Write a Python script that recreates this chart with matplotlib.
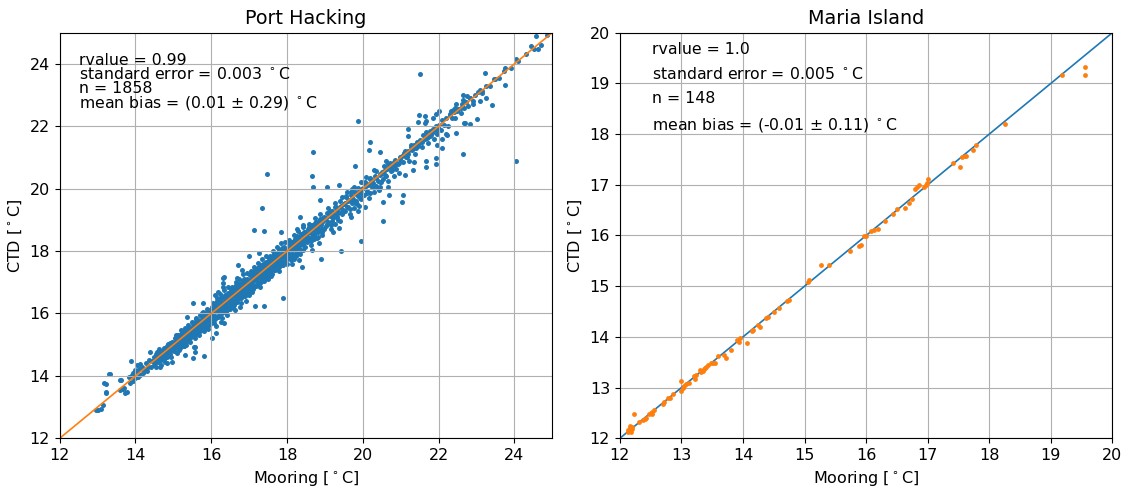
import numpy as np
import matplotlib
matplotlib.use("Agg")
import matplotlib.pyplot as plt

# Port Hacking: dense band along the 1:1 line (mooring, ctd)
ph_band = [
    (13.82,13.95),(13.85,13.78),(13.9,14.02),(13.93,13.84),(13.97,14.1),(14.0,13.92),(14.04,14.15),(14.07,13.96),(14.1,14.22),(14.13,14.02),
    (14.17,14.3),(14.2,14.08),(14.24,14.18),(14.27,14.4),(14.3,14.15),(14.34,14.28),(14.37,14.52),(14.41,14.3),(14.44,14.47),(14.48,14.35),
    (14.5,14.62),(14.52,14.4),(14.55,14.7),(14.57,14.5),(14.6,14.45),(14.62,14.78),(14.64,14.58),(14.67,14.35),(14.69,14.72),(14.71,14.62),
    (14.74,14.9),(14.76,14.55),(14.78,14.8),(14.8,14.68),(14.82,14.95),(14.84,14.6),(14.86,14.82),(14.88,14.74),(14.9,15.05),(14.91,14.7),
    (14.93,14.88),(14.95,14.62),(14.96,15.1),(14.98,14.85),(14.6,14.6),(14.7,14.8),(14.8,14.9),(14.9,14.92),(14.66,14.66),(14.86,14.96),
    (15.0,15.02),(15.02,14.8),(15.04,15.2),(15.06,14.95),(15.08,15.12),(15.1,14.72),(15.12,15.3),(15.14,15.05),(15.16,15.25),(15.18,14.9),
    (15.2,15.15),(15.22,15.38),(15.24,15.0),(15.26,15.28),(15.28,15.1),(15.3,15.45),(15.31,15.22),(15.33,14.98),(15.35,15.4),(15.37,15.3),
    (15.39,15.15),(15.41,15.55),(15.43,15.36),(15.45,15.08),(15.47,15.5),(15.49,15.4),(15.05,15.08),(15.11,15.18),(15.17,15.1),(15.23,15.3),
    (15.29,15.22),(15.34,15.36),(15.4,15.45),(15.46,15.4),(15.15,14.82),(15.27,14.95),(15.38,15.62),(15.21,15.48),(15.44,15.2),(15.48,15.28),
    (15.5,15.52),(15.51,15.3),(15.53,15.7),(15.55,15.45),(15.56,15.2),(15.58,15.65),(15.6,15.55),(15.61,15.82),(15.63,15.4),(15.65,15.68),
    (15.66,15.58),(15.68,15.3),(15.7,15.75),(15.71,15.62),(15.73,15.92),(15.75,15.5),(15.76,15.78),(15.78,15.66),(15.8,15.45),(15.81,15.88),
    (15.83,15.75),(15.85,16.02),(15.86,15.6),(15.88,15.85),(15.9,15.78),(15.91,15.5),(15.93,15.98),(15.95,15.86),(15.96,15.65),(15.98,16.1),
    (15.52,15.6),(15.57,15.52),(15.62,15.66),(15.67,15.7),(15.72,15.72),(15.77,15.8),(15.82,15.8),(15.87,15.92),(15.92,15.9),(15.97,15.96),
    (15.54,15.38),(15.64,15.48),(15.74,15.58),(15.84,15.68),(15.94,15.75),(15.59,15.85),(15.69,15.95),(15.79,16.05),(15.89,16.15),(15.99,15.8),
    (16.0,16.02),(16.01,15.8),(16.03,16.22),(16.05,15.92),(16.06,16.12),(16.08,15.7),(16.1,16.3),(16.11,16.05),(16.13,16.18),(16.15,15.88),
    (16.16,16.4),(16.18,16.1),(16.2,16.25),(16.21,15.95),(16.23,16.45),(16.25,16.18),(16.26,16.32),(16.28,15.85),(16.3,16.52),(16.31,16.22),
    (16.33,16.38),(16.35,16.05),(16.36,16.6),(16.38,16.3),(16.4,16.45),(16.41,16.12),(16.43,16.62),(16.45,16.38),(16.46,16.52),(16.48,16.2),
    (16.02,16.05),(16.07,16.08),(16.12,16.12),(16.17,16.2),(16.22,16.2),(16.27,16.28),(16.32,16.3),(16.37,16.4),(16.42,16.42),(16.47,16.48),
    (16.04,16.35),(16.14,16.5),(16.24,16.62),(16.34,16.75),(16.44,16.85),(16.09,15.82),(16.19,15.9),(16.29,16.0),(16.39,16.08),(16.49,16.15),
    (16.12,15.6),(16.27,15.72),(16.42,15.95),(16.19,16.68),(16.32,16.85),
    (16.5,16.52),(16.51,16.3),(16.53,16.72),(16.55,16.42),(16.56,16.62),(16.58,16.2),(16.6,16.8),(16.61,16.55),(16.63,16.68),(16.65,16.38),
    (16.66,16.9),(16.68,16.6),(16.7,16.75),(16.71,16.45),(16.73,16.95),(16.75,16.68),(16.76,16.82),(16.78,16.35),(16.8,17.02),(16.81,16.72),
    (16.83,16.88),(16.85,16.55),(16.86,17.1),(16.88,16.8),(16.9,16.95),(16.91,16.62),(16.93,17.12),(16.95,16.88),(16.96,17.02),(16.98,16.7),
    (16.52,16.55),(16.57,16.58),(16.62,16.62),(16.67,16.7),(16.72,16.7),(16.77,16.78),(16.82,16.8),(16.87,16.9),(16.92,16.92),(16.97,16.98),
    (16.54,16.85),(16.64,17.0),(16.74,17.12),(16.84,17.25),(16.94,17.3),(16.59,16.28),(16.69,16.38),(16.79,16.48),(16.89,16.55),(16.99,16.6),
    (16.62,16.1),(16.77,16.2),(16.92,16.4),(16.69,17.15),(16.82,17.38),
    (17.0,17.02),(17.01,16.8),(17.03,17.22),(17.05,16.92),(17.06,17.12),(17.08,16.7),(17.1,17.3),(17.11,17.05),(17.13,17.18),(17.15,16.88),
    (17.16,17.4),(17.18,17.1),(17.2,17.25),(17.21,16.95),(17.23,17.45),(17.25,17.18),(17.26,17.32),(17.28,16.85),(17.3,17.52),(17.31,17.22),
    (17.33,17.38),(17.35,17.05),(17.36,17.6),(17.38,17.3),(17.4,17.45),(17.41,17.12),(17.43,17.62),(17.45,17.38),(17.46,17.52),(17.48,17.2),
    (17.02,17.05),(17.07,17.08),(17.12,17.12),(17.17,17.2),(17.22,17.2),(17.27,17.28),(17.32,17.3),(17.37,17.4),(17.42,17.42),(17.47,17.48),
    (17.04,17.35),(17.14,17.5),(17.24,17.62),(17.34,17.75),(17.44,17.85),(17.09,16.78),(17.19,16.88),(17.29,16.98),(17.39,17.05),(17.49,17.1),
    (17.5,17.52),(17.51,17.3),(17.53,17.72),(17.55,17.42),(17.56,17.62),(17.58,17.2),(17.6,17.8),(17.61,17.55),(17.63,17.68),(17.65,17.38),
    (17.66,17.9),(17.68,17.6),(17.7,17.75),(17.71,17.45),(17.73,17.95),(17.75,17.68),(17.76,17.82),(17.78,17.35),(17.8,18.02),(17.81,17.72),
    (17.83,17.88),(17.85,17.55),(17.86,18.1),(17.88,17.8),(17.9,17.95),(17.91,17.62),(17.93,18.12),(17.95,17.88),(17.96,18.02),(17.98,17.7),
    (17.52,17.55),(17.57,17.58),(17.62,17.62),(17.67,17.7),(17.72,17.7),(17.77,17.78),(17.82,17.8),(17.87,17.9),(17.92,17.92),(17.97,17.98),
    (17.54,17.85),(17.64,18.0),(17.74,18.12),(17.84,18.25),(17.94,18.3),(17.59,17.28),(17.69,17.38),(17.79,17.48),(17.89,17.55),(17.99,17.6),
    (18.0,18.02),(18.02,17.8),(18.04,18.22),(18.06,17.92),(18.08,18.12),(18.1,17.7),(18.12,18.3),(18.14,18.05),(18.16,18.18),(18.18,17.88),
    (18.2,18.4),(18.22,18.1),(18.24,18.25),(18.26,17.95),(18.28,18.45),(18.3,18.18),(18.32,18.32),(18.34,17.9),(18.36,18.55),(18.38,18.22),
    (18.4,18.38),(18.42,18.05),(18.44,18.6),(18.46,18.3),(18.48,18.45),(18.03,18.05),(18.09,18.08),(18.15,18.15),(18.21,18.2),(18.27,18.28),
    (18.33,18.3),(18.39,18.4),(18.45,18.45),(18.05,18.35),(18.17,18.52),(18.29,18.65),(18.41,18.78),(18.11,17.78),(18.23,17.85),(18.35,18.0),
    (18.47,18.12),(18.13,17.6),(18.31,17.72),(18.25,18.7),(18.43,18.85),
    (18.5,18.52),(18.52,18.3),(18.55,18.72),(18.57,18.42),(18.6,18.62),(18.62,18.2),(18.65,18.8),(18.67,18.55),(18.7,18.68),(18.72,18.38),
    (18.75,18.9),(18.77,18.6),(18.8,18.75),(18.82,18.45),(18.85,18.95),(18.87,18.68),(18.9,18.82),(18.92,18.5),(18.95,19.05),(18.97,18.72),
    (18.53,18.55),(18.61,18.6),(18.69,18.7),(18.76,18.78),(18.84,18.85),(18.91,18.92),(18.98,19.0),(18.58,18.88),(18.73,19.05),(18.88,19.2),
    (18.63,18.32),(18.78,18.42),(18.93,18.6),(18.66,18.05),(18.83,18.25),
    (19.0,19.02),(19.03,18.8),(19.06,19.22),(19.09,18.92),(19.12,19.12),(19.15,18.7),(19.18,19.3),(19.21,19.05),(19.24,19.18),(19.27,18.88),
    (19.3,19.4),(19.33,19.1),(19.36,19.25),(19.39,18.95),(19.42,19.45),(19.45,19.18),(19.48,19.32),(19.04,19.05),(19.13,19.15),(19.22,19.2),
    (19.31,19.32),(19.4,19.4),(19.49,19.5),(19.08,19.38),(19.26,19.55),(19.44,19.72),(19.17,18.85),(19.35,19.0),(19.2,18.6),(19.38,18.75),
    (19.5,19.52),(19.53,19.3),(19.56,19.72),(19.59,19.42),(19.62,19.62),(19.65,19.2),(19.68,19.8),(19.71,19.55),(19.74,19.68),(19.77,19.38),
    (19.8,19.9),(19.83,19.6),(19.86,19.75),(19.89,19.45),(19.92,19.95),(19.95,19.68),(19.98,19.82),(19.54,19.55),(19.63,19.65),(19.72,19.7),
    (19.81,19.82),(19.9,19.9),(19.99,20.0),(19.58,19.88),(19.76,20.05),(19.94,20.22),(19.67,19.35),(19.85,19.5),(19.7,19.1),(19.88,19.28),
    (20.0,20.02),(20.03,19.8),(20.06,20.22),(20.1,19.92),(20.13,20.12),(20.16,19.7),(20.2,20.3),(20.23,20.05),(20.26,20.18),(20.3,19.88),
    (20.33,20.4),(20.36,20.1),(20.4,20.25),(20.43,19.95),(20.46,20.45),(20.49,20.2),(20.05,20.05),(20.15,20.15),(20.25,20.28),(20.35,20.35),
    (20.45,20.48),(20.09,20.38),(20.29,20.6),(20.19,19.85),(20.39,20.02),
    (20.5,20.52),(20.53,20.3),(20.57,20.72),(20.6,20.42),(20.64,20.62),(20.67,20.25),(20.71,20.82),(20.74,20.55),(20.78,20.68),(20.81,20.4),
    (20.85,20.92),(20.88,20.62),(20.92,20.78),(20.95,20.5),(20.98,21.02),(20.55,20.55),(20.69,20.7),(20.83,20.85),(20.97,20.95),(20.62,20.88),
    (21.02,21.05),(21.06,20.85),(21.1,21.22),(21.14,21.0),(21.18,21.12),(21.22,20.88),(21.26,21.35),(21.3,21.25),(21.34,21.3),(21.38,21.12),
    (21.42,21.5),(21.46,21.38),(21.49,21.45),(21.2,21.2),(21.36,21.4),
    (21.52,21.55),(21.56,21.35),(21.6,21.72),(21.64,21.58),(21.68,21.62),(21.72,21.45),(21.76,21.85),(21.8,21.72),(21.84,21.8),(21.88,21.6),
    (21.92,22.0),(21.96,21.88),(21.99,21.95),(21.7,21.7),(21.86,21.9),
    (22.02,22.05),(22.06,21.88),(22.1,22.2),(22.15,22.05),(22.2,22.25),(22.25,22.02),(22.3,22.35),(22.35,22.28),(22.4,22.45),(22.44,22.25),
    (22.48,22.5),(22.32,22.5),
    (22.52,22.55),(22.58,22.42),(22.62,22.7),(22.68,22.6),(22.72,22.78),(22.78,22.65),(22.84,22.9),(22.9,22.8),(22.95,23.0),(22.65,22.85),
    (23.05,23.1),(23.15,23.08),(23.25,23.3),(23.35,23.3),(23.45,23.5),(23.6,23.55),(23.72,23.78),(23.9,23.88),(24.1,24.1),(24.3,24.32),
    # second pass over the thickest part of the band
    (14.53,14.28),(14.58,14.75),(14.63,14.85),(14.68,14.5),(14.73,14.7),(14.77,14.45),(14.83,14.72),(14.87,15.02),(14.92,14.8),(14.97,14.98),
    (15.03,14.9),(15.07,15.3),(15.13,15.0),(15.19,15.35),(15.25,15.15),(15.32,15.52),(15.36,15.12),(15.42,15.28),(15.5,15.72),(15.55,15.62),
    (15.6,15.35),(15.66,15.78),(15.71,15.45),(15.77,15.9),(15.83,15.55),(15.88,16.0),(15.93,15.62),(15.97,16.12),
    (16.03,15.88),(16.07,16.28),(16.11,15.9),(16.16,16.3),(16.21,16.05),(16.26,16.48),(16.3,16.1),(16.35,16.55),(16.4,16.2),(16.44,16.65),
    (16.49,16.35),(16.53,16.78),(16.57,16.4),(16.62,16.82),(16.66,16.5),(16.71,16.92),(16.75,16.55),(16.8,16.62),(16.84,17.05),(16.88,16.65),
    (16.93,17.05),(16.97,16.82),
    (17.03,16.88),(17.07,17.28),(17.11,16.92),(17.16,17.32),(17.21,17.05),(17.26,17.48),(17.3,17.1),(17.35,17.55),(17.4,17.2),(17.44,17.65),
    (17.49,17.35),(17.53,17.78),(17.57,17.4),(17.62,17.82),(17.66,17.5),(17.71,17.92),(17.75,17.55),(17.8,17.62),(17.84,18.05),(17.88,17.65),
    (17.93,18.05),(17.97,17.82),
    (18.03,17.88),(18.07,18.28),(18.12,17.92),(18.17,18.32),(18.22,18.05),(18.27,18.48),(18.32,18.1),(18.37,18.55),(18.42,18.2),(18.47,18.62),
    (18.52,18.35),(18.57,18.78),(18.62,18.42),(18.67,18.82),(18.72,18.5),(18.77,18.92),(18.82,18.6),(18.87,19.02),(18.92,18.7),(18.97,19.1),
    (19.05,18.88),(19.12,19.3),(19.19,18.95),(19.26,19.42),(19.33,19.2),(19.41,19.6),(19.47,19.25),(19.55,19.78),(19.62,19.4),(19.7,19.88),
    (19.78,19.55),(19.86,20.02),(19.93,19.7),(20.02,20.18),(20.1,19.85),(20.18,20.35),(20.27,20.05),(20.35,20.55),(20.44,20.2),
    (20.58,20.45),(20.66,20.8),(20.76,20.6),(20.86,20.75),(20.96,20.82),(21.08,21.15),(21.17,21.0),(21.28,21.4),(21.4,21.3),(21.55,21.48),
    (21.66,21.8),(21.78,21.68),(21.9,21.95),
]

# Port Hacking: scattered points away from the band
ph_spread = [
    (17.48,20.48),(17.33,19.39),(18.35,19.1),(21.5,23.68),(19.87,22.16),(18.69,21.16),(24.05,20.9),(20.53,18.97),(18.67,20.39),(18.69,20.06),
    (17.12,18.68),(17.4,18.65),(17.85,18.6),(19.43,18.0),(18.9,17.74),(17.9,16.48),(17.38,16.23),(17.15,16.23),(16.33,17.16),(15.54,14.94),
    (19.95,18.32),(22.63,21.1),(22.7,22.1),(21.92,20.8),(21.66,20.68),(21.32,20.6),(21.11,20.45),(22.47,21.77),(22.1,21.29),(21.95,21.39),
    (21.66,22.16),(21.47,22.35),(21.45,22.13),(21.05,19.8),(21.03,19.58),(20.69,19.8),(20.53,19.58),(20.67,20.06),(20.45,20.06),(20.06,19.42),
    (19.8,20.74),(20.2,21.48),(20.17,21.23),(20.45,21.16),(21.19,21.68),(18.88,19.65),(19.06,20.06),(19.37,20.13),(19.71,20.0),
    (23.23,23.71),(23.5,23.52),(23.76,23.32),(23.76,23.87),(24.05,24.16),(24.57,24.9),(24.86,24.93),(24.45,24.58),(24.52,24.48),(24.63,24.48),
    (24.7,24.6),(23.42,22.68),(23.26,22.9),(23.0,22.23),(22.84,22.06),(22.68,22.12),(23.1,23.16),(23.15,23.13),(23.1,22.8),(22.9,22.7),
    (22.63,23.0),(22.76,22.97),(22.82,22.9),(22.6,22.58),(22.47,22.7),(22.44,22.6),(22.37,22.51),(22.29,22.38),(22.02,22.48),(21.94,22.38),
    (21.84,22.26),(21.63,22.32),(21.63,22.1),(22.2,21.74),(22.23,21.71),(22.08,21.6),(21.95,21.74),(21.71,21.64),(21.19,21.9),
    (21.66,20.9),(21.92,20.97),(21.35,20.84),
    (13.02,12.9),(13.08,12.93),(13.13,13.06),(13.23,13.48),(13.21,13.74),(13.34,14.06),(13.6,13.87),(13.73,13.45),(13.78,13.48),(13.6,13.55),
    (13.71,13.61),(13.66,13.58),(13.89,14.48),(13.94,14.1),(14.0,14.19),(14.05,14.35),(14.13,14.38),(14.21,14.22),(14.39,14.77),(14.65,14.29),
    (14.84,14.42),(14.97,14.45),(15.31,14.68),(15.28,14.97),(15.52,14.58),(15.57,14.94),(15.36,15.9),(15.52,16.35),(15.78,16.35),(16.1,16.58),
    (16.33,15.71),(16.12,15.39),(16.02,15.23),(16.7,17.55),(16.99,17.84),(17.26,17.94),(16.31,17.13),(16.31,16.97),(18.4,17.48),(18.19,17.74),
    (15.81,14.65),(15.57,14.77),(15.76,16.03),(15.6,15.74),(13.31,14.06),(13.18,13.77),(13.21,13.45),(13.63,13.87),(12.97,12.9),
]

# Maria Island (mooring, ctd)
mi_points = [
    (12.23,12.47),(12.15,12.15),(12.17,12.2),(12.2,12.22),(12.16,12.24),(12.13,12.17),(12.19,12.18),(12.18,12.13),(12.14,12.12),
    (12.31,12.32),(12.37,12.36),(12.41,12.38),(12.42,12.4),(12.48,12.48),(12.5,12.49),(12.53,12.51),(12.56,12.55),(12.52,12.47),
    (12.7,12.68),(12.72,12.71),(12.78,12.79),(12.82,12.79),(12.86,12.87),(12.99,13.13),(12.99,12.94),(13.02,13.0),(13.05,13.04),
    (13.08,13.07),(13.13,13.1),(13.21,13.23),(13.22,13.17),(13.24,13.25),(13.32,13.3),(13.35,13.33),(13.38,13.39),(13.4,13.41),
    (13.43,13.45),(13.48,13.48),(13.51,13.49),(13.54,13.49),(13.36,13.36),(13.3,13.34),(13.6,13.62),(13.69,13.65),(13.73,13.59),
    (13.8,13.75),(13.91,13.93),(13.95,13.97),(13.93,13.9),(14.06,13.88),(14.14,14.11),(14.17,14.14),(14.24,14.23),(14.27,14.19),
    (14.38,14.37),(14.4,14.4),(14.51,14.5),(14.58,14.57),(14.71,14.7),(14.74,14.73),(15.05,15.09),(15.07,15.12),(15.27,15.41),
    (15.4,15.41),(15.73,15.7),(15.89,15.8),(15.91,15.82),(15.96,15.98),(15.99,15.98),(16.08,16.08),(16.13,16.11),(16.2,16.13),
    (16.3,16.29),(16.43,16.42),(16.5,16.52),(16.63,16.55),(16.69,16.65),(16.75,16.71),(16.8,16.92),(16.82,16.96),(16.86,17.0),
    (16.94,16.95),(16.97,17.0),(16.99,17.03),(17.01,17.12),(17.41,17.42),(17.53,17.35),(17.56,17.55),(17.6,17.56),(17.62,17.56),
    (17.73,17.68),(17.79,17.79),(18.25,18.2),(19.18,19.17),(19.56,19.32),(19.56,19.16),
]

ph_text = ("rvalue = 0.99\nstandard error = 0.003 $^\\circ$C\nn = 1858\n"
           "mean bias = (0.01 $\\pm$ 0.29) $^\\circ$C")
mi_text = ("rvalue = 1.0\nstandard error = 0.005 $^\\circ$C\nn = 148\n"
           "mean bias = (-0.01 $\\pm$ 0.11) $^\\circ$C")

plt.rcParams['font.size'] = 11.5

ph = np.array(ph_band + ph_spread)
mi = np.array(mi_points)

fig, (ax1, ax2) = plt.subplots(1, 2, figsize=(11.26, 4.87), dpi=100)
fig.subplots_adjust(left=0.053, right=0.988, bottom=0.1, top=0.933, wspace=0.137)

ax1.scatter(ph[:, 0], ph[:, 1], s=13, color="C0", linewidths=0)
ax1.plot([12, 25], [12, 25], color="C1", lw=1.2)
ax1.set_xlim(12, 25)
ax1.set_ylim(12, 25)
ax1.grid()
ax1.set_title("Port Hacking", fontsize=13.8)
ax1.set_xlabel("Mooring [$^\\circ$C]")
ax1.set_ylabel("CTD [$^\\circ$C]")
ax1.text(0.04, 0.95, ph_text, transform=ax1.transAxes, va="top", ha="left",
         linespacing=0.88, fontsize=11.3)

ax2.plot([12, 20], [12, 20], color="C0", lw=1.2)
ax2.scatter(mi[:, 0], mi[:, 1], s=12, color="C1", linewidths=0, zorder=3)
ax2.set_xlim(12, 20)
ax2.set_ylim(12, 20)
ax2.grid()
ax2.set_title("Maria Island", fontsize=13.8)
ax2.set_xlabel("Mooring [$^\\circ$C]")
ax2.set_ylabel("CTD [$^\\circ$C]")
ax2.text(0.065, 0.977, mi_text, transform=ax2.transAxes, va="top", ha="left",
         linespacing=1.72, fontsize=11.3)

fig.savefig("out.png", dpi=100)
